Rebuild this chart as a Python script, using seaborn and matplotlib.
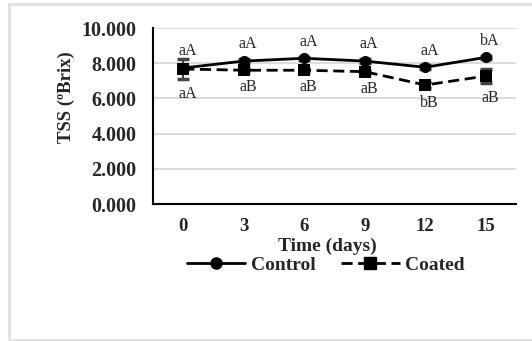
import numpy as np
import pandas as pd
import matplotlib
matplotlib.use("Agg")
import matplotlib.pyplot as plt
from matplotlib.patches import Rectangle
from matplotlib.lines import Line2D
import seaborn as sns

days = ["0", "3", "6", "9", "12", "15"]
control = [7.73, 8.12, 8.28, 8.12, 7.77, 8.33]
control_err = [0.10, 0.10, 0.10, 0.10, 0.10, 0.10]
coated = [7.67, 7.60, 7.60, 7.52, 6.76, 7.27]
coated_err = [0.57, 0.12, 0.12, 0.12, 0.15, 0.40]
control_lbl = ["aA", "aA", "aA", "aA", "aA", "bA"]
coated_lbl = ["aA", "aB", "aB", "aB", "bB", "aB"]
yticks = [0, 2, 4, 6, 8, 10]

sns.set_theme(style="white")
plt.rcParams["font.family"] = ["Liberation Serif", "DejaVu Serif"]

W, H = 532, 341
fig = plt.figure(figsize=(W / 100, H / 100), dpi=100)
ax = fig.add_axes([153 / W, 1 - 204 / H, (516 - 153) / W, (204 - 28) / H])

df = pd.DataFrame({
    "day": days * 2,
    "tss": control + coated,
    "group": ["Control"] * 6 + ["Coated"] * 6,
})

DASH = (4, 2)

ax.errorbar(days, control, yerr=control_err, fmt="none", ecolor="#444444",
            elinewidth=1.5, capsize=4, capthick=2.5, zorder=2)
ax.errorbar(days, coated, yerr=coated_err, fmt="none", ecolor="#444444",
            elinewidth=1.5, capsize=4, capthick=2.5, zorder=2)

sns.lineplot(data=df, x="day", y="tss", hue="group", style="group",
             palette={"Control": "black", "Coated": "black"},
             dashes={"Control": "", "Coated": DASH},
             markers={"Control": "o", "Coated": "s"},
             markersize=8, linewidth=2, markeredgewidth=0, sort=False,
             legend=False, ax=ax, zorder=3)

for i, d in enumerate(days):
    ax.annotate(control_lbl[i], (i, control[i] + control_err[i]),
                xytext=(3, 5), textcoords="offset points", ha="center",
                va="bottom", fontsize=11.5)
    ax.annotate(coated_lbl[i], (i, coated[i] - coated_err[i]),
                xytext=(3, -5), textcoords="offset points", ha="center",
                va="top", fontsize=11.5)

ax.set_xlim(-0.5, 5.5)
ax.set_ylim(0, 10)
ax.set_yticks(yticks)
ax.set_yticklabels([f"{v:.3f}" for v in yticks], fontsize=14.5, fontweight="bold")
ax.set_xticks(range(len(days)))
ax.set_xticklabels(days, fontsize=13.5, fontweight="bold")
ax.tick_params(axis="y", length=0, pad=12)
ax.tick_params(axis="x", length=0, pad=10)
ax.grid(axis="y", color="#d9d9d9", linewidth=1.3)
ax.grid(axis="x", visible=False)
for s in ["top", "right"]:
    ax.spines[s].set_visible(False)
for s in ["left", "bottom"]:
    ax.spines[s].set_color("black")
    ax.spines[s].set_linewidth(1.5)

ax.set_ylabel("TSS (ºBrix)", fontsize=13.5, fontweight="bold")
ax.yaxis.set_label_coords(-0.215, 0.608)
ax.set_xlabel("Time (days)", fontsize=14, fontweight="bold", labelpad=0)
ax.xaxis.set_label_coords(0.479, -0.19)

handles = [
    Line2D([], [], color="black", lw=2, marker="o", markersize=8),
    Line2D([], [], color="black", lw=2, ls=(0, DASH), marker="s", markersize=8),
]
fig.legend(handles, ["Control", "Coated"], loc="center",
           bbox_to_anchor=(326 / W, 1 - 265 / H), ncol=2, frameon=False,
           prop={"weight": "bold", "size": 14}, handlelength=3.0,
           handletextpad=0.3, columnspacing=1.3)

fig.patches.append(Rectangle((9 / W, 1 - 340 / H), 1.0, (340 - 4) / H,
                             transform=fig.transFigure, fill=False,
                             edgecolor="#e0e0e0", linewidth=2))

fig.savefig("out.png", dpi=100)
